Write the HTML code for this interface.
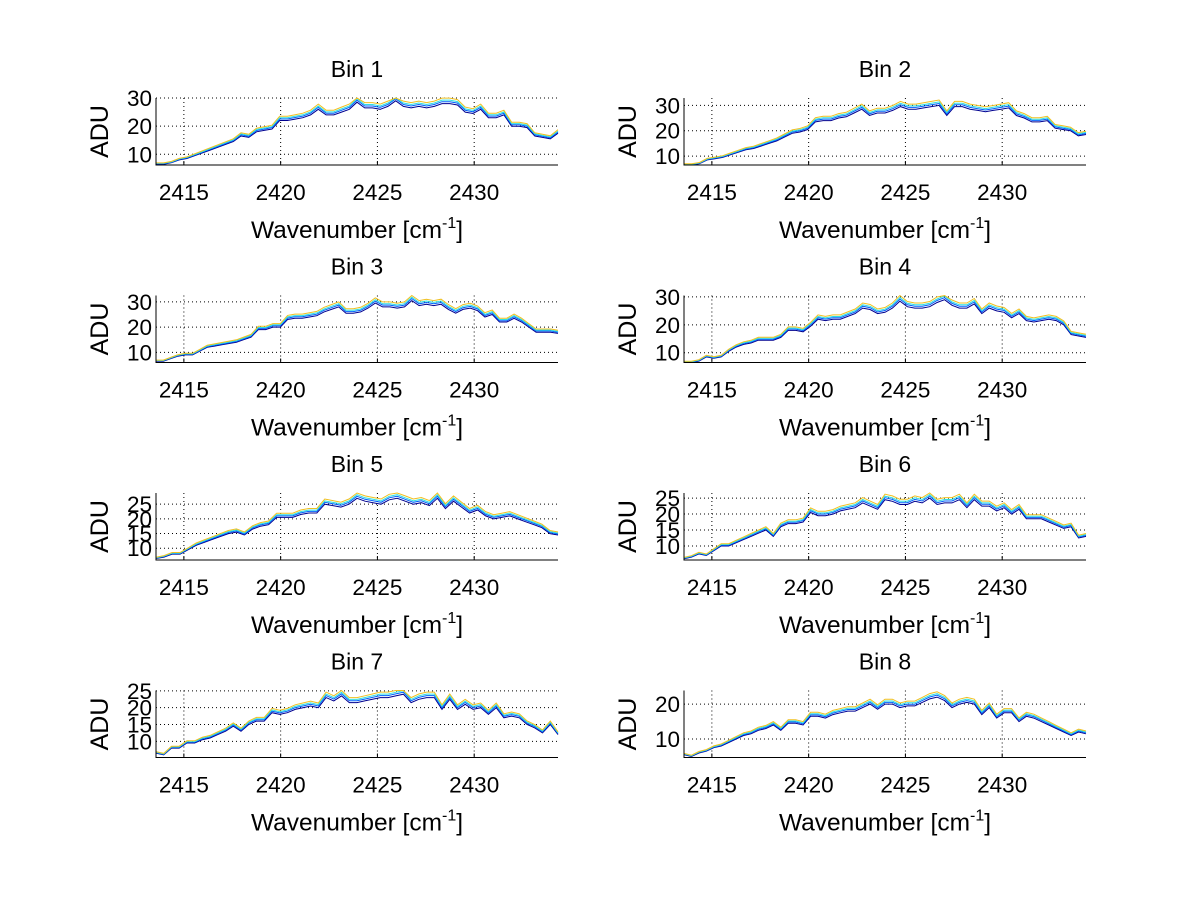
<!DOCTYPE html>
<html><head><meta charset="utf-8"><style>
html,body{margin:0;padding:0;background:#fff;}
svg{display:block;font-family:"Liberation Sans",sans-serif;}
</style></head><body>
<svg id="fig" width="1200" height="901" viewBox="0 0 1200 901"></svg>
<script>
const binTitles = ["Bin 1","Bin 2","Bin 3","Bin 4","Bin 5","Bin 6","Bin 7","Bin 8"];
const xTicks = [2415, 2420, 2425, 2430];
const xRange = [2413.56, 2434.33];
const yRanges = [[6.2,30],[6.5,32.9],[6,32.5],[6.5,30.5],[6,28.8],[5.6,26.6],[5.2,25.1],[4.7,23.9]];
const yTicks = [[10,20,30],[10,20,30],[10,20,30],[10,20,30],[10,15,20,25],[10,15,20,25],[10,15,20,25],[10,20]];
const seriesColors = ["#00008f","#0060ff","#30e0e0","#f0c020"];
const seriesScale = [1.0, 1.025, 1.045, 1.07];
const bin1 = [6.5,6.5,7,8,8.5,9.5,10.5,11.5,12.5,13.5,14.5,16.5,16,18,18.5,19,22,22,22.5,23,24,26,24,24,25,26,28.5,26.5,26.5,26,27,29,27,26.5,27,26.5,27,28,28,27.5,25,24.5,26,23,23,24,20,20,19.5,16.5,16,15.5,17.5];
const bin2 = [6.5,6.5,7,8.5,9,9.5,10.5,11.5,12.5,13,14,15,16,17.5,19,19.5,20.5,23.5,24,24,25,25.5,27,28.5,26,27,27,28,29.5,28.5,28.5,29,29.5,30,26,29.5,29.5,28.5,28,27.5,28,28.5,29,26,25,23.5,23.5,24,21,20.5,20,18,18.5];
const bin3 = [6.5,6.5,7.5,8.5,9,9,10.5,12,12.5,13,13.5,14,15,16,19,19,20,20,23,23.5,23.5,24,24.5,26,27,28,25.5,25.5,26,27.5,29.5,28,28,27.5,28,30.5,28.5,29,28.5,29,27,25.5,27,27.5,26.5,24,25,22,22,23.5,22,20,18,18,18,17.5];
const bin4 = [6.5,6.5,7,8.5,8,8.5,10.5,12,13,13.5,14.5,14.5,14.5,15.5,18,18,17.5,19.5,22,21.5,22,22,23,24,26,25.5,24,24.5,26,28.5,26.5,26,26,26.5,28,29,27,26,26,27.5,24,26,25,24.5,22.5,24,21.5,21,21.5,22,21.5,20,16.5,16,15.5];
const bin5 = [6.5,7,8,8,9.5,11,12,13,14,15,15.5,14.5,16.5,17.5,18,20.5,20.5,20.5,21.5,22,22,25,24.5,24,25,27,26,25.5,25,26.5,27,26,25,25.5,24.5,27,23.5,26,24,22,23,21,20,20.5,21,20,19,18,17,15,14.5];
const bin6 = [6,6.5,7.5,7,8.5,10,10,11,12,13,14,15,13,16,17,17,17.5,20.5,19.5,19.5,20,21,21.5,22,23.5,22.5,21.5,24.5,24,23,23,24,23.5,25,23,23.5,23.5,24.5,22,24.5,22.5,22.5,21,22,20,21.5,18.5,18.5,18.5,17.5,16.5,15.5,16,12.5,13];
const bin7 = [6.5,6,8,8,9.5,9.5,10.5,11,12,13,14.5,13,15,16,16,18.5,18,18.5,19.5,20,20.5,20,23,22,23.5,21.5,21.5,22,22.5,23,23,23.5,24,21.5,22.5,23,23,19.5,22.5,19.5,21,19.5,20,18,20,17,17.5,17,15,14,12.5,15,12];
const bin8 = [5.5,5,6,6.5,7.5,8,9,10,11,11.5,12.5,13,14,12.5,14.5,14.5,14,16.5,16.5,16,17,17.5,18,18,19,20,18.5,20,20,19,19.5,19.5,20.5,21.5,22,21,19,20,20.5,20,17,19,16,17.5,17.5,15,16.5,16,15,14,13,12,11,12,11.5];
const binData = [bin1,bin2,bin3,bin4,bin5,bin6,bin7,bin8];

const NS = "http://www.w3.org/2000/svg";
const svg = document.getElementById("fig");
function mk(tag, attrs, parent){
  const e = document.createElementNS(NS, tag);
  for (const k in attrs) e.setAttribute(k, attrs[k]);
  (parent||svg).appendChild(e);
  return e;
}
const colLeft = [156, 684], axW = 402, axTop = [98, 295.5, 493, 690.5], axH = 67;

binData.forEach((vals, b) => {
  const col = b % 2, row = Math.floor(b / 2);
  const L = colLeft[col], T = axTop[row], R = L + axW, B = T + axH;
  const [y0, y1] = yRanges[b];
  const sx = v => L + (v - xRange[0]) / (xRange[1] - xRange[0]) * axW;
  const sy = v => B - (v - y0) / (y1 - y0) * axH;
  const g = mk("g", {});
  
  

  const title = mk("text", {x: L + axW/2, y: T - 21, "text-anchor": "middle", "font-size": 23}, g);
  title.textContent = binTitles[b];
  
  

  xTicks.forEach(t => {
    const ln = mk("line", {x1: sx(t), x2: sx(t), y1: T, y2: B, stroke: "#000", "stroke-width": 1, "stroke-dasharray": "1,3"}, g);
    
    
    const tk = mk("line", {x1: sx(t), x2: sx(t), y1: B, y2: B - 4, stroke: "#000"}, g);
    
    
    const lb = mk("text", {x: sx(t), y: B + 35, "text-anchor": "middle", "font-size": 22.5}, g);
    lb.textContent = t;
    
    
  });
  yTicks[b].forEach(t => {
    const ln = mk("line", {x1: L, x2: R, y1: sy(t), y2: sy(t), stroke: "#000", "stroke-width": 1, "stroke-dasharray": "1,3"}, g);
    
    
    const lb = mk("text", {x: L - 4, y: sy(t) + 8, "text-anchor": "end", "font-size": 22.5}, g);
    lb.textContent = t;
    
    
  });

  seriesScale.forEach((s, k) => {
    const n = vals.length;
    const pts = vals.map((v, i) => {
      const x = xRange[0] + i * (xRange[1] - xRange[0]) / (n - 1);
      return sx(x).toFixed(1) + "," + sy(Math.min(v * s, y1)).toFixed(1);
    }).join(" ");
    const pl = mk("polyline", {points: pts, fill: "none", stroke: seriesColors[k], "stroke-width": 1}, g);
    
    
  });

  const ax = mk("path", {d: `M${L},${T} V${B} H${R}`, fill: "none", stroke: "#000", "stroke-width": 1}, g);
  
  

  const xl = mk("text", {x: L + axW/2, y: B + 73, "text-anchor": "middle", "font-size": 24.5}, g);
  xl.innerHTML = 'Wavenumber [cm<tspan dy="-10" font-size="16">-1</tspan><tspan dy="10">]</tspan>';
  
  

  const yl = mk("text", {x: 0, y: 0, "text-anchor": "middle", "font-size": 25, transform: `translate(${L - 48},${T + axH/2}) rotate(-90)`}, g);
  yl.textContent = "ADU";
  
  
});
</script>
</body></html>
